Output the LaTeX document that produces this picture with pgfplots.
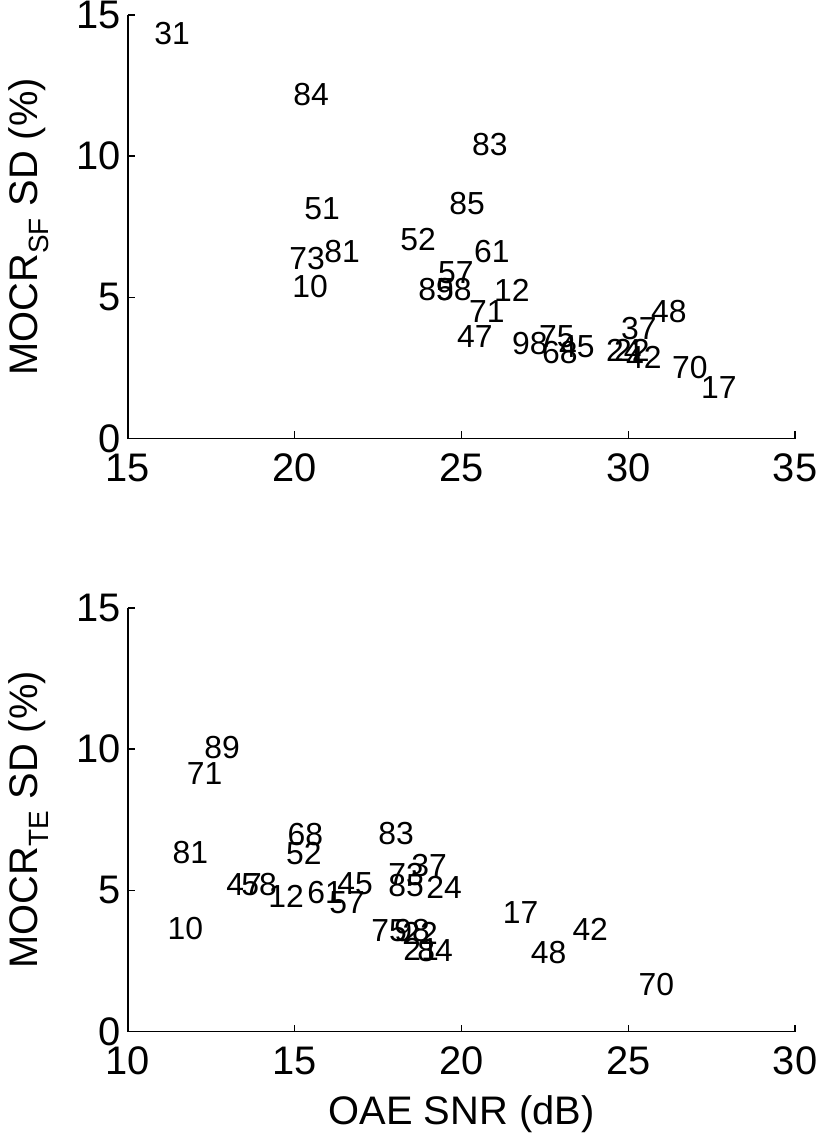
\documentclass[border=0pt]{standalone}
\usepackage{fontspec}
\setmainfont{Liberation Sans}
\usepackage{pgfplots}
\pgfplotsset{compat=1.18}

\pgfplotsset{
  mocr/.style={
    scale only axis, width=667bp, height=423.5bp,
    axis x line*=bottom, axis y line*=left,
    axis line style={-, line width=1.4bp},
    every tick/.style={black, line width=1.4bp},
    major tick length=7bp, tick align=inside,
    ymin=0, ymax=15, ytick={0,5,10,15},
    /pgf/number format/assume math mode=true,
    tick label style={font=\fontsize{40}{44}\selectfont},
    xticklabel style={yshift=-12bp},
    yticklabel style={xshift=-4bp},
    label style={font=\fontsize{40}{44}\selectfont},
    ylabel style={at={(axis description cs:-0.135,0.5)}, anchor=base},
    clip=false,
  },
  idlab/.style={only marks, mark=none, nodes near coords,
    point meta=explicit symbolic,
    every node near coord/.append style={anchor=center, inner sep=0pt,
      font=\fontsize{32}{34}\selectfont}},
}

\begin{document}
\begin{tikzpicture}
% upper panel: SF
\begin{axis}[mocr, at={(0,0)}, anchor=south west,
  xmin=15, xmax=35, xtick={15,20,25,30,35},
  ylabel={MOCR\textsubscript{SF} SD (\%)}]
\addplot[idlab] table[x=x, y=y, meta=id] {
x y id
16.32 14.33 31
20.49 12.20 84
20.82 8.13 51
20.37 6.39 73
21.42 6.61 81
20.46 5.37 10
23.70 7.03 52
25.17 8.31 85
25.85 10.40 83
25.91 6.64 61
24.83 5.86 57
24.24 5.26 89
24.77 5.26 58
26.51 5.26 12
25.76 4.48 71
25.40 3.60 47
27.05 3.38 98
27.86 3.60 75
27.95 3.06 68
28.46 3.24 45
29.87 3.13 24
30.11 3.13 22
30.32 3.88 37
31.22 4.48 48
30.47 2.89 42
31.85 2.50 70
32.72 1.82 17
};
\end{axis}

% lower panel: TE
\begin{axis}[mocr, at={(0,-593bp)}, anchor=south west,
  xmin=10, xmax=30, xtick={10,15,20,25,30},
  ylabel={MOCR\textsubscript{TE} SD (\%)},
  xlabel={OAE SNR (dB)},
  xlabel style={at={(axis description cs:0.5,-0.22)}, anchor=base}]
\addplot[idlab] table[x=x, y=y, meta=id] {
x y id
12.82 10.06 89
12.30 9.14 71
11.87 6.33 81
11.72 3.64 10
15.32 6.97 68
15.27 6.30 52
18.04 7.03 83
13.48 5.20 47
13.93 5.20 58
14.74 4.78 12
15.91 4.92 61
16.81 5.23 45
16.57 4.56 57
18.34 5.55 73
18.34 5.16 85
19.03 5.87 37
19.48 5.09 24
17.83 3.58 75
18.52 3.58 98
18.76 3.47 22
18.79 2.91 21
19.21 2.87 84
21.77 4.22 17
23.86 3.61 42
22.61 2.81 48
25.84 1.65 70
};
\end{axis}
\pgfresetboundingbox
\path[use as bounding box] (-128bp,-696.5bp) rectangle (688bp,438.5bp);
\end{tikzpicture}
\end{document}
